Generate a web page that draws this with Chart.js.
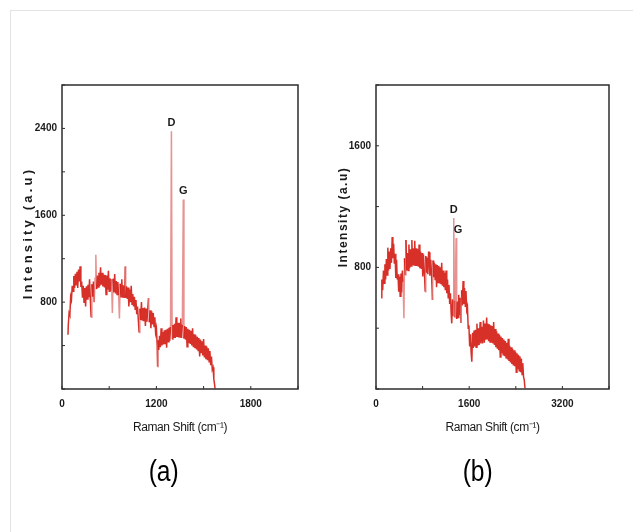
<!DOCTYPE html>
<html>
<head>
<meta charset="utf-8">
<script src="https://cdn.jsdelivr.net/npm/chart.js@4.4.1/dist/chart.umd.min.js"></script>
<style>
  html, body { margin: 0; padding: 0; background: #fff; }
  #page { position: relative; width: 633px; height: 532px; overflow: hidden; background: #fff; }
  #edge { position: absolute; left: 10px; top: 10px; right: -5px; bottom: -5px;
          border-top: 1.5px solid #e3e3e3; border-left: 1.5px solid #e3e3e3; }
  .panel { position: absolute; top: 70px; height: 390px; }
  .tag { position: absolute; top: 455px; line-height: 34px; color: #000;
         font: 29px 'Liberation Sans', Arial, sans-serif; transform: scaleX(0.85); }
</style>
</head>
<body>
<div id="page">
  <div id="edge"></div>
  <div class="panel" style="left:0; width:315px;"><canvas id="chart-a" width="315" height="390"></canvas></div>
  <div class="panel" style="left:315px; width:318px;"><canvas id="chart-b" width="318" height="390"></canvas></div>
  <div class="tag" style="left:146px;">(a)</div>
  <div class="tag" style="left:460px;">(b)</div>
</div>
<script>
// ---- panel (a) ----
const shiftA = [76,80,90,100,110,120,130,140,150,160,170,180,190,200,210,220,230,240,250,260,270,280,290,300,310,320,330,340,350,360,370,380,390,400,410,420,430,440,450,460,470,480,490,500,510,520,530,540,550,560,570,580,590,600,610,620,630,640,650,660,670,680,690,700,710,720,730,740,750,760,770,780,790,800,805,810,820,830,840,850,860,870,880,890,900,910,920,930,940,950,960,970,980,990,1000,1010,1020,1030,1040,1050,1060,1070,1080,1090,1100,1110,1120,1130,1140,1150,1160,1170,1180,1190,1200,1210,1215,1220,1230,1240,1250,1260,1270,1280,1290,1300,1310,1320,1330,1340,1350,1360,1370,1380,1391,1400,1410,1420,1430,1440,1450,1460,1470,1480,1490,1500,1510,1520,1530,1542,1550,1560,1570,1580,1590,1600,1610,1620,1630,1640,1650,1660,1670,1680,1690,1700,1710,1720,1730,1740,1750,1760,1770,1780,1790,1800,1810,1820,1830,1840,1850,1860,1870,1880,1890,1900,1910,1920,1930,1940,1945];
const countsA = [500,590,700,680,850,820,950,900,1040,930,1060,960,1080,930,1100,990,1130,940,990,840,950,800,930,760,945,830,960,845,1010,830,660,965,850,990,800,1020,1236,920,1045,940,1070,950,1120,960,1070,945,1055,935,1050,870,1045,915,1090,900,1020,905,1010,700,1015,890,1060,880,995,870,985,860,650,970,850,1010,840,955,845,960,1128,840,945,830,935,760,915,800,950,780,875,760,850,735,820,690,760,640,520,740,635,800,630,745,625,750,580,740,620,735,837,615,725,560,715,595,700,575,660,520,560,400,206,450,360,490,385,560,400,525,410,540,420,545,380,555,435,565,445,575,2375,460,590,470,600,470,660,480,610,475,610,480,650,470,595,1745,465,580,455,570,390,555,425,545,415,535,400,560,385,505,375,495,365,480,355,470,300,455,330,440,310,460,290,400,275,390,265,375,250,350,220,300,180,200,90,40,5];
const xTicksA = ['0', '', '1200', '', '1800', ''];
const yTicksA = ['', '', '800', '', '1600', '', '2400', ''];
const peakLabelsA = ['D', 'G'];
const peakShiftA = [1391, 1542];
const peakCountsA = [2375, 1745];

// ---- panel (b) ----
const shiftB = [90,100,115,128,140,153,165,178,190,203,215,228,240,253,265,278,290,303,315,328,340,353,365,378,390,403,415,428,440,453,465,479,490,503,514,527,540,553,565,578,590,603,616,628,640,653,665,678,690,703,715,728,740,753,765,778,790,803,815,830,845,855,865,878,890,903,913,925,940,955,970,980,990,1003,1015,1028,1040,1053,1065,1078,1090,1103,1115,1128,1140,1153,1165,1178,1190,1203,1215,1228,1240,1253,1265,1278,1290,1300,1315,1325,1335,1345,1355,1375,1385,1395,1410,1420,1433,1445,1457,1470,1483,1495,1508,1520,1533,1545,1558,1570,1583,1595,1608,1620,1633,1645,1658,1670,1683,1695,1708,1720,1733,1745,1758,1770,1788,1800,1815,1830,1845,1860,1873,1885,1900,1910,1920,1933,1945,1958,1970,1983,1995,2008,2020,2033,2045,2058,2070,2083,2095,2108,2120,2133,2145,2158,2170,2183,2195,2208,2220,2233,2245,2258,2270,2283,2295,2308,2320,2333,2345,2358,2370,2383,2395,2408,2420,2433,2445,2458,2470,2483,2495,2508,2520,2533,2545,2558];
const countsB = [600,720,650,780,695,820,720,855,750,930,780,905,790,925,830,1000,860,955,825,890,730,850,720,755,640,740,610,760,635,780,705,465,860,750,980,780,895,780,950,795,920,810,980,815,925,815,975,810,925,810,920,805,950,795,905,790,895,740,885,770,640,875,765,865,755,900,900,745,850,740,585,845,735,830,720,820,670,815,700,810,695,800,690,830,680,780,670,765,650,780,630,720,600,685,560,630,500,432,590,480,1125,580,470,993,460,575,470,620,485,600,434,650,550,710,560,665,545,645,520,540,400,420,280,360,240,180,370,270,385,280,390,275,430,285,400,290,440,300,410,300,450,305,430,325,470,330,430,315,425,310,420,305,415,300,440,290,395,275,380,265,365,255,355,210,345,235,335,225,325,215,315,205,305,195,330,185,285,175,275,165,265,155,255,150,245,110,235,130,225,120,215,110,200,95,170,80,60,5];
const xTicksB = ['0', '', '1600', '', '3200', ''];
const yTicksB = ['', '', '800', '', '1600', ''];
const peakLabelsB = ['D', 'G'];
const peakShiftB = [1335, 1375];
const peakCountsB = [1125, 993];

const RED = 'rgba(210,26,18,0.9)';
const PINK = 'rgba(224,120,118,0.8)';
const FONT = "'Liberation Sans', Arial, sans-serif";

// frame round the plot area plus short inward tick marks
const frameAndTicks = {
  id: 'frameAndTicks',
  afterDraw(chart) {
    const { ctx, chartArea: a, scales: { x, y } } = chart;
    ctx.save();
    ctx.strokeStyle = '#2d2d2d';
    ctx.lineWidth = 1.5;
    ctx.strokeRect(a.left, a.top, a.right - a.left, a.bottom - a.top);
    ctx.lineWidth = 1;
    ctx.beginPath();
    x.ticks.forEach(t => {
      const px = x.getPixelForValue(t.value);
      ctx.moveTo(px, a.bottom); ctx.lineTo(px, a.bottom - 3);
    });
    y.ticks.forEach(t => {
      const py = y.getPixelForValue(t.value);
      ctx.moveTo(a.left, py); ctx.lineTo(a.left + 3, py);
    });
    ctx.stroke();
    ctx.restore();
  }
};

// D / G tags above the peaks
const peakTags = {
  id: 'peakTags',
  afterDatasetsDraw(chart, args, opts) {
    const { ctx, scales: { x, y } } = chart;
    ctx.save();
    ctx.font = 'bold 11px ' + FONT;
    ctx.fillStyle = '#1a1a1a';
    ctx.textAlign = 'center';
    ctx.textBaseline = 'bottom';
    opts.labels.forEach((txt, i) => {
      ctx.fillText(txt, x.getPixelForValue(opts.shifts[i]) + (opts.dx[i] || 0), y.getPixelForValue(opts.counts[i]) - 3);
    });
    ctx.restore();
  }
};

// axis titles in the figure are letter-spaced (y) / tight (x)
const spacedTitle = {
  id: 'spacedTitle',
  afterLayout(chart, args, opts) {
    const s = chart.scales.y;
    if (s._spaced) return;
    const orig = s.drawTitle;
    s.drawTitle = function (...a) {
      this.ctx.save();
      this.ctx.letterSpacing = opts.ySpacing;
      this.ctx.translate(0, opts.yShift);
      orig.apply(this, a);
      this.ctx.restore();
    };
    const sx = chart.scales.x;
    const origX = sx.drawTitle;
    sx.drawTitle = function (...a) {
      this.ctx.save();
      this.ctx.letterSpacing = opts.xSpacing;
      origX.apply(this, a);
      this.ctx.restore();
    };
    s._spaced = true;
  }
};

function makePanel(id, p) {
  if (p.shift.length !== p.counts.length) throw new Error(id + ': length mismatch ' + p.shift.length + ' vs ' + p.counts.length);
  const pts = p.shift.map((v, i) => ({ x: v, y: p.counts[i] }));
  return new Chart(document.getElementById(id), {
    type: 'line',
    data: {
      datasets: [{
        data: pts,
        borderColor: RED,
        borderWidth: 1.5,
        pointRadius: 0,
        tension: 0,
        segment: {
          borderColor: c => Math.abs(c.p1.parsed.y - c.p0.parsed.y) > 200 ? PINK : RED
        }
      }]
    },
    options: {
      responsive: false,
      animation: false,
      layout: { padding: { left: 0, top: 15, right: p.padRight, bottom: 0 } },
      plugins: {
        legend: { display: false },
        tooltip: { enabled: false },
        peakTags: { labels: p.peakLabels, shifts: p.peakShift, counts: p.peakCounts, dx: p.peakDx },
        spacedTitle: { ySpacing: p.ySpacing, yShift: p.yShift, xSpacing: '-0.4px' }
      },
      scales: {
        x: {
          type: 'linear',
          min: 0, max: p.xMax,
          afterFit: s => { s.height = 71; },
          grid: { display: false, drawTicks: false },
          border: { display: false },
          ticks: {
            stepSize: p.xStep, autoSkip: false, maxRotation: 0, padding: 9,
            color: '#1a1a1a', font: { family: FONT, size: 10, weight: 'bold' },
            callback: (v, i) => p.xTicks[i]
          },
          title: {
            display: true, text: 'Raman Shift (cm⁻¹)', color: '#1a1a1a',
            font: { family: FONT, size: 12 },
            padding: { top: 0, bottom: 25 }
          }
        },
        y: {
          min: 0, max: p.yMax,
          afterFit: s => { s.width = p.yWidth; },
          grid: { display: false, drawTicks: false },
          border: { display: false },
          ticks: {
            stepSize: p.yStep, autoSkip: false, padding: 5,
            color: '#1a1a1a', font: { family: FONT, size: 10, weight: 'bold' },
            callback: (v, i) => p.yTicks[i]
          },
          title: {
            display: true, text: 'Intensity (a.u)', color: '#1a1a1a',
            font: { family: FONT, size: p.yTitleSize, weight: 'bold' },
            padding: { top: p.yTitlePad, bottom: 0 }
          }
        }
      }
    },
    plugins: [frameAndTicks, peakTags, spacedTitle]
  });
}

makePanel('chart-a', {
  shift: shiftA, counts: countsA, xTicks: xTicksA, yTicks: yTicksA,
  peakLabels: peakLabelsA, peakShift: peakShiftA, peakCounts: peakCountsA, peakDx: [0, 0],
  xMax: 3000, xStep: 600, yMax: 2800, yStep: 400,
  yWidth: 62, padRight: 17, yTitlePad: 21, yTitleSize: 13, ySpacing: '3.2px', yShift: -4
});

makePanel('chart-b', {
  shift: shiftB, counts: countsB, xTicks: xTicksB, yTicks: yTicksB,
  peakLabels: peakLabelsB, peakShift: peakShiftB, peakCounts: peakCountsB, peakDx: [0, 2],
  xMax: 4000, xStep: 800, yMax: 2000, yStep: 400,
  yWidth: 61, padRight: 24, yTitlePad: 21, yTitleSize: 12, ySpacing: '1.5px', yShift: -20
});
</script>
</body>
</html>
